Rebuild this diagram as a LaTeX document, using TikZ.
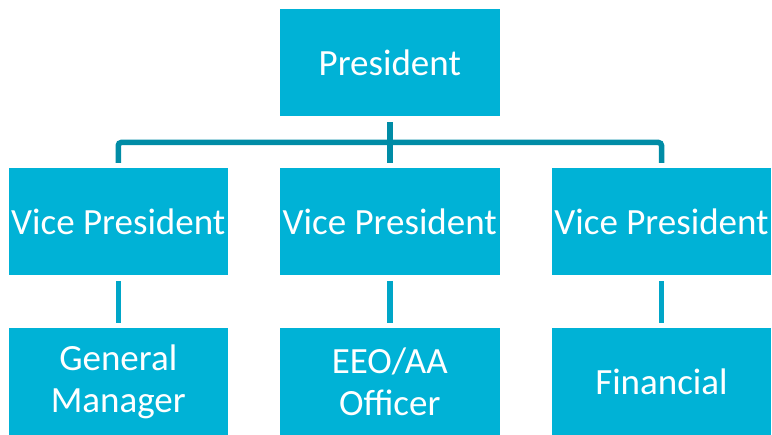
\documentclass[tikz,border=0pt]{standalone}
\usepackage{fontspec}
\setmainfont{Carlito}
\definecolor{boxfill}{RGB}{0,178,214}
\definecolor{upline}{RGB}{0,140,166}
\definecolor{lowline}{RGB}{0,166,200}
\begin{document}
\begin{tikzpicture}[x=1pt,y=-1pt,
  orgbox/.style={fill=boxfill, draw=none, minimum width=219.5pt, minimum height=107pt,
    inner sep=0pt, text=white, align=center,
    font=\fontsize{37pt}{42pt}\selectfont},
  upconn/.style={draw=upline, line width=5.5pt},
  lowconn/.style={draw=lowline, line width=5.5pt}]
\useasboundingbox (0,0) rectangle (772,435);
\node[orgbox] (P) at (389.75,63) {President};
\node[orgbox] (V1) at (118.25,222) {Vice President};
\node[orgbox] (V2) at (389.75,222) {Vice President};
\node[orgbox] (V3) at (661.5,222) {Vice President};
\node[orgbox] (G) at (118.25,382) {General\\Manager};
\node[orgbox] (E) at (389.75,382) {EEO/AA\\Officer};
\node[orgbox] (F) at (661.5,382) {Financial};
\coordinate (bar) at (389.75,142.5);
\draw[upconn] ([yshift=-5.5pt]P.south) -- ([yshift=5.5pt]V2.north);
\draw[upconn, rounded corners=3pt] ([yshift=5.5pt]V1.north) |- (bar) -| ([yshift=5.5pt]V3.north);
\draw[lowconn] ([yshift=-5.5pt]V1.south) -- ([yshift=5.5pt]G.north);
\draw[lowconn] ([yshift=-5.5pt]V2.south) -- ([yshift=5.5pt]E.north);
\draw[lowconn] ([yshift=-5.5pt]V3.south) -- ([yshift=5.5pt]F.north);
\end{tikzpicture}
\end{document}
